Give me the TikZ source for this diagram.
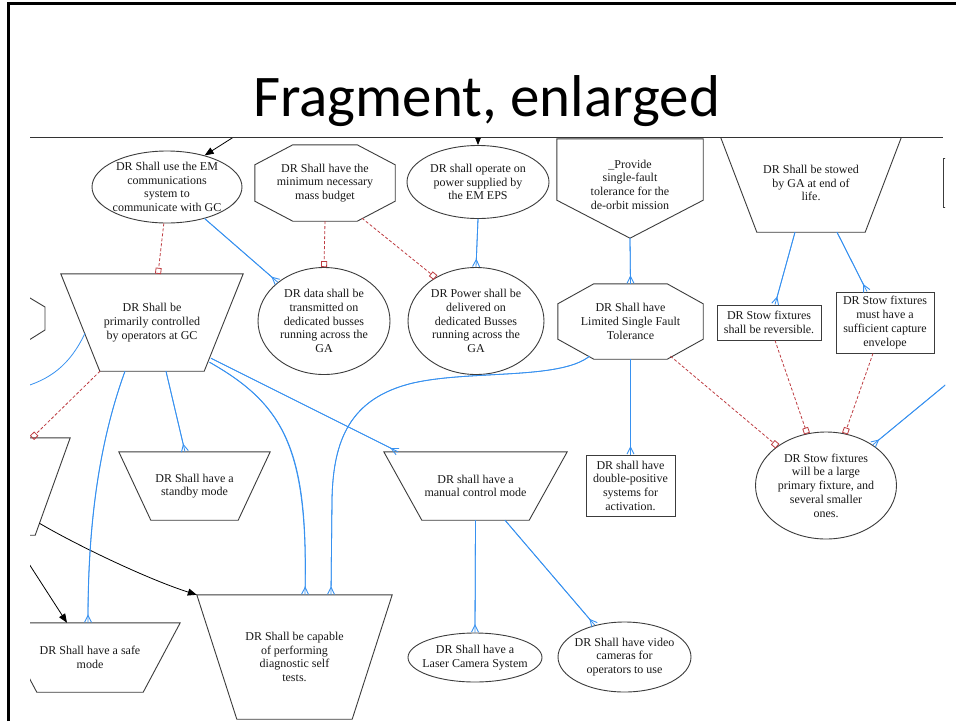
\documentclass[tikz,border=0pt]{standalone}
\usepackage{fontspec}
\setmainfont{Liberation Serif}
\newfontfamily\titlefont{Carlito}
\usetikzlibrary{arrows.meta,shapes.geometric}
\definecolor{inkc}{RGB}{25,25,25}
\definecolor{edgec}{RGB}{60,60,60}
\definecolor{linkblue}{RGB}{55,145,240}
\definecolor{linkred}{RGB}{190,60,65}
% inverted trapezium drawn over a rectangular node: #1 node, #2 inset of the bottom corners
\newcommand\invtrap[2]{%
  \draw[outline] (#1.north west) -- (#1.north east) -- ([xshift=-#2]#1.south east)
    -- ([xshift=#2]#1.south west) -- cycle;}
% octagon drawn over a rectangular node: #1 node, #2 horizontal inset, #3 vertical inset
\newcommand\octagonal[3]{%
  \draw[outline] ([xshift=#2]#1.north west) -- ([xshift=-#2]#1.north east)
    -- ([yshift=-#3]#1.north east) -- ([yshift=#3]#1.south east)
    -- ([xshift=-#2]#1.south east) -- ([xshift=#2]#1.south west)
    -- ([yshift=#3]#1.south west) -- ([yshift=-#3]#1.north west) -- cycle;}
\begin{document}
\begin{tikzpicture}[x=1pt,y=-1pt,
  outline/.style={draw=edgec, line width=0.9pt},
  txt/.style={font=\fontsize{12}{13.7}\selectfont, text=inkc, align=center},
  box/.style={txt, rectangle, inner sep=0pt},
  oval/.style={txt, ellipse, outline, inner sep=-8pt},
  plainbox/.style={txt, rectangle, outline, inner sep=0pt},
  blueline/.style={draw=linkblue, line width=0.8pt},
  crow/.style={blueline, postaction={draw=linkblue, line width=0.8pt,
      -{Straight Barb[reversed,length=7pt,width=7pt,line width=0.9pt]}}},
  boxlink/.style={draw=linkred, line width=0.8pt, dash pattern=on 3pt off 2pt,
      -{Square[open,length=6pt,width=6pt,line width=0.8pt]}},
  flow/.style={draw=black, line width=0.8pt, -{Triangle[length=9pt,width=7pt]}},
]
\useasboundingbox (0,0) rectangle (956,721);
\fill[white] (0,0) rectangle (956,721);

% slide frame and heading
\draw[line width=2.5pt] (8.5,721) -- (8.5,3.5) -- (956,3.5);
\node[font=\titlefont\fontsize{59}{61}\selectfont, anchor=base] (title) at (486.5,116) {Fragment, enlarged};

\begin{scope}
\clip (30,137) rectangle (945,721);

% ---- nodes ----
\node[oval, minimum width=150, minimum height=72] (emcomm) at (167,187)
  {DR Shall use the EM\\communications\\system to\\communicate with GC};
\node[box, minimum width=140, minimum height=76] (mass) at (325,183)
  {DR Shall have the\\minimum necessary\\mass budget};
\octagonal{mass}{38}{20}
\node[oval, minimum width=142, minimum height=73] (operate) at (478,182)
  {DR shall operate on\\power supplied by\\the EM EPS};
\node[box, minimum width=146, minimum height=99,
  label={[txt,yshift=4pt]center:{\_Provide\\single-fault\\tolerance for the\\de-orbit mission}}]
  (provide) at (630,188.5) {};
\draw[outline] (provide.north west) -- (provide.north east) -- ([yshift=38]provide.south east)
  -- (provide.south) -- ([yshift=38]provide.south west) -- cycle;
\node[box, minimum width=183, minimum height=98] (stowed) at (811,183)
  {DR Shall be stowed\\by GA at end of\\life.};
\invtrap{stowed}{37.5}

\node[box, minimum width=182, minimum height=97] (prim) at (152,322.5)
  {DR Shall be\\primarily controlled\\by operators at GC};
\invtrap{prim}{39}
\node[oval, minimum width=132, minimum height=107] (data) at (324,321)
  {DR data shall be\\transmitted on\\dedicated busses\\running across the\\GA};
\node[oval, minimum width=136, minimum height=107] (delivered) at (476,321)
  {DR Power shall be\\delivered on\\dedicated Busses\\running across the\\GA};
\node[box, minimum width=145, minimum height=75] (limited) at (630.5,321.5)
  {DR Shall have\\Limited Single Fault\\Tolerance};
\octagonal{limited}{36}{20}
\node[plainbox, minimum width=104, minimum height=35] (reversible) at (769,322.5)
  {DR Stow fixtures\\shall be reversible.};
\node[plainbox, minimum width=98, minimum height=61] (capture) at (885,322.5)
  {DR Stow fixtures\\must have a\\sufficient capture\\envelope};

\node[box, minimum width=151, minimum height=68] (standby) at (194.5,486)
  {DR Shall have a\\standby mode};
\invtrap{standby}{32}
\node[box, minimum width=183, minimum height=68] (manual) at (475.5,486)
  {DR shall have a\\manual control mode};
\invtrap{manual}{38}
\node[plainbox, minimum width=89, minimum height=61] (doublepos) at (630.5,485.5)
  {DR shall have\\double-positive\\systems for\\activation.};
\node[oval, minimum width=141, minimum height=107] (stowfix) at (826,485.5)
  {DR Stow fixtures\\will be a large\\primary fixture, and\\several smaller\\ones.};

\node[box, minimum width=180, minimum height=97] (leftB) at (-20,486.5) {};
\invtrap{leftB}{35}
\node[box, minimum width=180, minimum height=69] (safe) at (90,657.5)
  {DR Shall have a safe\\mode};
\invtrap{safe}{37}
\node[box, minimum width=195, minimum height=124] (capable) at (294.5,657)
  {DR Shall be capable\\of performing\\diagnostic self\\tests.};
\invtrap{capable}{40}
\node[oval, minimum width=134, minimum height=49] (laser) at (475,657.5)
  {DR Shall have a\\Laser Camera System};
\node[oval, minimum width=133, minimum height=70] (video) at (624.5,657)
  {DR Shall have video\\cameras for\\operators to use};

% shapes cut by the edge of the fragment
\draw[outline] (10,286) -- (45,307) -- (45,330) -- (10,352);
\draw[outline] (943,158) rectangle (1000,207);

% ---- loose ends ----
\coordinate (inA) at (240,133);
\coordinate (inB) at (478,130);
\coordinate (inC) at (22,553);
\coordinate (inD) at (955,377);
\coordinate (outA) at (20,388);

% ---- black flows ----
\draw[flow] (inA) -- (emcomm.40);
\draw[flow] (inB) -- (operate.north);
\draw[flow] (inC) -- ([xshift=-23]safe.north);
\draw[flow] ([shift={(59.3,-12)}]leftB.south) .. controls (80,547) and (150,580) .. (capable.north west);

% ---- blue derivations ----
\draw[crow] (emcomm.-40) -- (data.140);
\draw[crow] (operate.south) -- (delivered.north);
\draw[crow] (provide.south) -- (limited.north);
\draw[crow] ([xshift=-16]stowed.south) -- ([xshift=6]reversible.north);
\draw[crow] ([xshift=26]stowed.south) -- ([xshift=-18]capture.north);
\draw[crow] (limited.south) -- (doublepos.north);
\draw[crow] (inD) -- (stowfix.41);
\draw[crow] ([xshift=14]prim.south) -- ([xshift=-9.5]standby.north);
\draw[crow] ([xshift=-27]prim.south) .. controls (100,440) and (88,520) .. ([xshift=-2]safe.north);
\draw[crow] ([shift={(59,-13)}]prim.south) -- ([xshift=-77.5]manual.north);
\draw[crow] ([shift={(57.5,-9)}]prim.south) .. controls (285,405) and (308,450) .. ([xshift=10.5]capable.north);
\draw[crow] ([shift={(-41,-3)}]limited.south) .. controls (560,380) and (470,370) .. (413,383)
  .. controls (350,398) and (333,440) .. (332,500) -- ([xshift=36.5]capable.north);
\draw[blueline] ([shift={(-67,-38)}]prim.south) .. controls (70,365) and (50,380) .. (outA);
\draw[crow] (manual.south) -- (laser.north);
\draw[crow] ([xshift=29.5]manual.south) -- (video.133);

% ---- red dashed links ----
\draw[boxlink] (emcomm.265) -- ([xshift=6]prim.north);
\draw[boxlink] (mass.south) -- (data.north);
\draw[boxlink] ([shift={(37,-3)}]mass.south) -- (delivered.133);
\draw[boxlink] ([xshift=-52]prim.south) -- ([xshift=52]leftB.north);
\draw[boxlink] ([shift={(40,-3)}]limited.south) -- (stowfix.141);
\draw[boxlink] ([xshift=6]reversible.south) -- (stowfix.110);
\draw[boxlink] ([xshift=-12]capture.south) -- (stowfix.70);
\end{scope}

% upper edge of the fragment
\draw[line width=0.8pt, draw=black!80] (30,137) -- (943,137);
\end{tikzpicture}
\end{document}
